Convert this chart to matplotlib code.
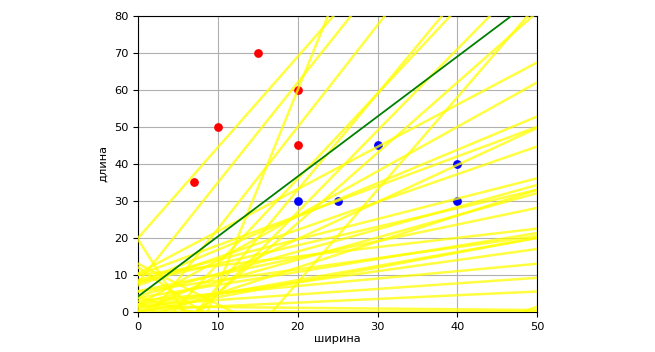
import matplotlib
matplotlib.use("Agg")
import matplotlib.pyplot as plt
import numpy as np

plt.rcParams["font.size"] = 8.2

# class points
red_x = [7, 10, 15, 20, 20]
red_y = [35, 50, 70, 60, 45]
blue_x = [20, 25, 30, 40, 40]
blue_y = [30, 30, 45, 40, 30]

# intermediate separating lines: y = k*x + b
line_k = [2.45, 2.7, 5.3, 2.75, 2.6, 2.3, 2.2, 2.5, 1.9,
          1.14, 1.2, 0.9, 0.8, 1.0, 0.75, 0.55, 0.6, 0.5, 0.6, 0.45,
          0.35, 0.3, 0.38, 0.3, 0.15, 0.0, -0.02, 0.8,
          -3.4, -1.1, -1.5, -0.6, 0.25, 0.7, 0.4, 0.2, 0.1]
line_b = [20, 8, -46, -5, -19, -10, -17, -42, -14,
          10.4, 2, 7.8, 10, -0.3, 7.2, 8.6, 4.3, 8, 2.1, 5.6,
          3.8, 5.5, 1, 2, 1.7, 0.3, 1.5, -38.6,
          19.5, 13, 12, 4, 10, -2, 0, 3, 0.5]

# final line
final_k = 1.62
final_b = 4.2

fig, ax = plt.subplots(figsize=(6.55, 3.52), dpi=100)
fig.subplots_adjust(left=0.211, right=0.820, top=0.955, bottom=0.114)

ax.scatter(red_x, red_y, color="red", s=28, zorder=2)
ax.scatter(blue_x, blue_y, color="blue", s=28, zorder=2)

xs = np.array([0, 50])
for k, b in zip(line_k, line_b):
    ax.plot(xs, k * xs + b, color="yellow", linewidth=1.8, alpha=0.75, zorder=3)
ax.plot(xs, final_k * xs + final_b, color="green", linewidth=1.3, zorder=4)

ax.set_xlim(0, 50)
ax.set_ylim(0, 80)
ax.set_xlabel("ширина", labelpad=2)
ax.set_ylabel("длина")
ax.grid(True)

fig.savefig("out.png", dpi=100)
